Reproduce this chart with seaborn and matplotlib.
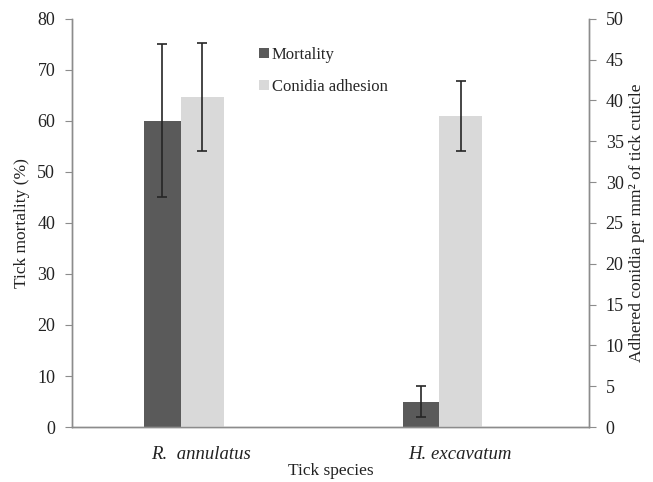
import numpy as np
import matplotlib
matplotlib.use("Agg")
import matplotlib.pyplot as plt
import seaborn as sns
from matplotlib.patches import Patch

species = ["R.  annulatus", "H. excavatum"]
mortality = [60, 5]
mortality_err = [15, 3]
conidia = [40.4, 38.1]
conidia_err = [6.6, 4.3]

sns.set_style("white")
plt.rcParams["font.family"] = ["Liberation Serif", "DejaVu Serif"]

dark = "#5a5a5a"
light = "#d9d9d9"
axis_col = "#8c8c8c"
txt = "#222222"

fig = plt.figure(figsize=(6.53, 4.82), dpi=100)
ax1 = fig.add_axes([0.110, 0.114, 0.792, 0.847])
ax2 = ax1.twinx()

idx = np.arange(len(species))
dark_w, light_w = 0.142, 0.166
dark_pos = idx - 0.079 - dark_w / 2
light_pos = idx - 0.079 + light_w / 2

sns.barplot(x=dark_pos, y=mortality, native_scale=True, width=dark_w,
            color=dark, saturation=1, ax=ax1, errorbar=None, linewidth=0)
sns.barplot(x=light_pos, y=conidia, native_scale=True, width=light_w,
            color=light, saturation=1, ax=ax2, errorbar=None, linewidth=0)
ax1.errorbar(dark_pos, mortality, yerr=mortality_err, fmt="none",
             ecolor="#262626", elinewidth=1.2, capsize=3.5, capthick=1.2)
ax2.errorbar(light_pos, conidia, yerr=conidia_err, fmt="none",
             ecolor="#262626", elinewidth=1.2, capsize=3.5, capthick=1.2)

ax1.set_xlim(-0.5, 1.5)
ax1.set_ylim(0, 80)
ax2.set_ylim(0, 50)
ax1.set_yticks(np.arange(0, 81, 10))
ax2.set_yticks(np.arange(0, 51, 5))

ax1.set_xticks(idx)
ax1.set_xticklabels(species, fontstyle="italic", fontsize=13.5, color=txt)
ax1.set_xticks([0.5], minor=True)
ax1.tick_params(axis="x", which="major", length=0, pad=14)
ax1.tick_params(axis="x", which="minor", length=5, color=axis_col, direction="out")

for ax in (ax1, ax2):
    ax.tick_params(axis="y", length=5, color=axis_col, direction="out",
                   labelsize=13, labelcolor=txt, pad=7)
    for s in ax.spines.values():
        s.set_color(axis_col)
        s.set_linewidth(1.0)
    ax.spines["top"].set_visible(False)
    ax.grid(False)

ax1.set_ylabel("Tick mortality (%)", fontsize=12.5, color=txt, labelpad=5)
ax2.set_ylabel("Adhered conidia per mm\u00b2 of tick cuticle", fontsize=12.5,
               color=txt, labelpad=4)
ax1.set_xlabel("Tick species", fontsize=12.5, color=txt, labelpad=0)

handles = [Patch(facecolor=dark, edgecolor="none"),
           Patch(facecolor=light, edgecolor="none")]
ax1.legend(handles, ["Mortality", "Conidia adhesion"], loc="upper left",
           bbox_to_anchor=(0.34, 0.96), frameon=False,
           handlelength=0.55, handleheight=0.55, handletextpad=0.2,
           labelspacing=0.95, prop={"size": 12}, borderaxespad=0.3)

fig.savefig("out.png", dpi=100)
